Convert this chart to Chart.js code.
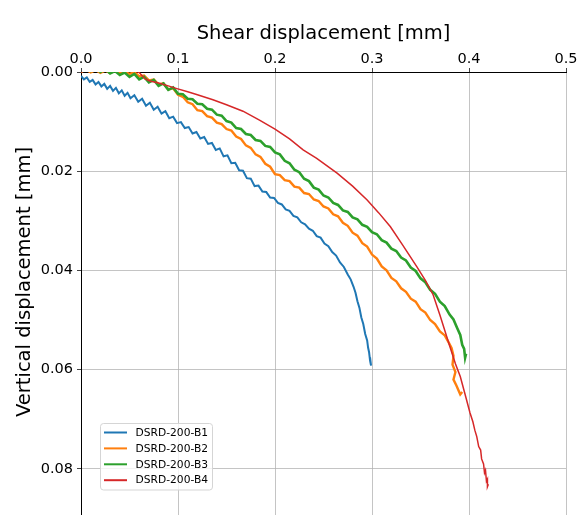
<!DOCTYPE html>
<html>
<head>
<meta charset="utf-8">
<script src="https://cdn.jsdelivr.net/npm/chart.js@4.4.1/dist/chart.umd.min.js"></script>
<style>
  html, body { margin: 0; padding: 0; background: #fff; }
  #wrap { width: 580px; height: 515px; }
</style>
</head>
<body>
<div id="wrap"><canvas id="chart" width="580" height="515"></canvas></div>
<script>
// series labels and colours
const labels = ["DSRD-200-B1", "DSRD-200-B2", "DSRD-200-B3", "DSRD-200-B4"];
const colors = ["#1f77b4", "#ff7f0e", "#2ca02c", "#d62728"];

// tick values
const xTicks = [0, 0.1, 0.2, 0.3, 0.4, 0.5];
const yTicks = [0, 0.02, 0.04, 0.06, 0.08];

// [shear displacement, vertical displacement]
const b1 = [
  [0.000, 0.0008], [0.003, 0.0015], [0.006, 0.0011], [0.009, 0.0020], [0.012, 0.0016],
  [0.015, 0.0025], [0.018, 0.0020], [0.021, 0.0029], [0.024, 0.0024], [0.027, 0.0034],
  [0.030, 0.0028], [0.033, 0.0038], [0.036, 0.0032], [0.039, 0.0043], [0.042, 0.0037],
  [0.045, 0.0048], [0.048, 0.0042], [0.051, 0.0053], [0.055, 0.0047], [0.059, 0.0060],
  [0.063, 0.0054], [0.067, 0.0068], [0.071, 0.0062], [0.075, 0.0076], [0.079, 0.0070],
  [0.083, 0.0084], [0.087, 0.0079], [0.091, 0.0093], [0.095, 0.0090], [0.099, 0.0103],
  [0.103, 0.0101], [0.107, 0.0113], [0.111, 0.0111], [0.115, 0.0124], [0.119, 0.0121],
  [0.123, 0.0134], [0.127, 0.0131], [0.131, 0.0145], [0.135, 0.0143], [0.139, 0.0157],
  [0.143, 0.0154], [0.147, 0.0170], [0.151, 0.0168], [0.155, 0.0184], [0.159, 0.0183],
  [0.163, 0.0198], [0.167, 0.0199], [0.171, 0.0214], [0.175, 0.0215], [0.179, 0.0230],
  [0.183, 0.0229], [0.187, 0.0241], [0.191, 0.0242], [0.195, 0.0253], [0.199, 0.0254],
  [0.203, 0.0264], [0.207, 0.0267], [0.211, 0.0277], [0.215, 0.0280], [0.219, 0.0290],
  [0.223, 0.0293], [0.227, 0.0303], [0.231, 0.0307], [0.235, 0.0316], [0.239, 0.0320],
  [0.243, 0.0331], [0.247, 0.0334], [0.251, 0.0346], [0.255, 0.0351], [0.259, 0.0363],
  [0.263, 0.0370], [0.267, 0.0384], [0.271, 0.0393], [0.275, 0.0408], [0.278, 0.0418],
  [0.281, 0.0433], [0.283, 0.0445], [0.285, 0.0462], [0.287, 0.0475], [0.289, 0.0495],
  [0.291, 0.0508], [0.293, 0.0528], [0.295, 0.0541], [0.296, 0.0556], [0.297, 0.0565],
  [0.298, 0.0582], [0.299, 0.0592], [0.298, 0.0575]
];

const b2 = [
  [0.000, 0.0000], [0.005, -0.0005], [0.010, 0.0001], [0.015, -0.0004], [0.020, 0.0002],
  [0.025, -0.0003], [0.030, 0.0002], [0.035, -0.0003], [0.040, 0.0003], [0.045, -0.0001],
  [0.050, 0.0004], [0.055, 0.0000], [0.060, 0.0009], [0.065, 0.0007], [0.070, 0.0017],
  [0.075, 0.0015], [0.080, 0.0025], [0.085, 0.0023], [0.090, 0.0035], [0.095, 0.0033],
  [0.100, 0.0046], [0.105, 0.0050], [0.110, 0.0061], [0.115, 0.0065], [0.120, 0.0077],
  [0.125, 0.0079], [0.130, 0.0089], [0.135, 0.0092], [0.140, 0.0102], [0.145, 0.0105],
  [0.150, 0.0115], [0.155, 0.0118], [0.160, 0.0130], [0.165, 0.0135], [0.170, 0.0148],
  [0.175, 0.0153], [0.180, 0.0166], [0.185, 0.0171], [0.190, 0.0185], [0.195, 0.0191],
  [0.200, 0.0206], [0.205, 0.0208], [0.210, 0.0218], [0.215, 0.0220], [0.220, 0.0231],
  [0.225, 0.0233], [0.230, 0.0244], [0.235, 0.0246], [0.240, 0.0257], [0.245, 0.0260],
  [0.250, 0.0271], [0.255, 0.0275], [0.260, 0.0287], [0.265, 0.0291], [0.270, 0.0304],
  [0.275, 0.0310], [0.280, 0.0324], [0.285, 0.0330], [0.290, 0.0345], [0.295, 0.0352],
  [0.300, 0.0368], [0.305, 0.0376], [0.310, 0.0392], [0.315, 0.0400], [0.320, 0.0415],
  [0.325, 0.0422], [0.330, 0.0436], [0.335, 0.0443], [0.340, 0.0457], [0.345, 0.0463],
  [0.350, 0.0478], [0.355, 0.0485], [0.360, 0.0500], [0.365, 0.0508], [0.370, 0.0523],
  [0.375, 0.0531], [0.379, 0.0545], [0.382, 0.0556], [0.384, 0.0572], [0.383, 0.0590],
  [0.386, 0.0605], [0.384, 0.0620], [0.387, 0.0632], [0.389, 0.0641], [0.391, 0.0650],
  [0.393, 0.0645]
];

const b3 = [
  [0.000, -0.0002], [0.005, -0.0009], [0.010, -0.0002], [0.015, -0.0008], [0.020, 0.0000],
  [0.025, -0.0006], [0.030, 0.0003], [0.035, -0.0002], [0.040, 0.0006], [0.045, 0.0001],
  [0.050, 0.0010], [0.055, 0.0004], [0.060, 0.0015], [0.065, 0.0010], [0.070, 0.0021],
  [0.075, 0.0016], [0.080, 0.0028], [0.085, 0.0023], [0.090, 0.0036], [0.095, 0.0031],
  [0.100, 0.0044], [0.105, 0.0045], [0.110, 0.0054], [0.115, 0.0055], [0.120, 0.0064],
  [0.125, 0.0065], [0.130, 0.0074], [0.135, 0.0076], [0.140, 0.0086], [0.145, 0.0088],
  [0.150, 0.0099], [0.155, 0.0102], [0.160, 0.0113], [0.165, 0.0115], [0.170, 0.0125],
  [0.175, 0.0127], [0.180, 0.0137], [0.185, 0.0139], [0.190, 0.0149], [0.195, 0.0151],
  [0.200, 0.0162], [0.205, 0.0166], [0.210, 0.0179], [0.215, 0.0184], [0.220, 0.0197],
  [0.225, 0.0202], [0.230, 0.0215], [0.235, 0.0220], [0.240, 0.0233], [0.245, 0.0237],
  [0.250, 0.0249], [0.255, 0.0253], [0.260, 0.0264], [0.265, 0.0268], [0.270, 0.0279],
  [0.275, 0.0282], [0.280, 0.0293], [0.285, 0.0297], [0.290, 0.0308], [0.295, 0.0312],
  [0.300, 0.0323], [0.305, 0.0327], [0.310, 0.0339], [0.315, 0.0344], [0.320, 0.0356],
  [0.325, 0.0361], [0.330, 0.0374], [0.335, 0.0380], [0.340, 0.0394], [0.345, 0.0401],
  [0.350, 0.0416], [0.355, 0.0424], [0.360, 0.0439], [0.365, 0.0447], [0.370, 0.0463],
  [0.375, 0.0472], [0.380, 0.0489], [0.384, 0.0499], [0.388, 0.0517], [0.391, 0.0530],
  [0.393, 0.0550], [0.395, 0.0558], [0.396, 0.0576], [0.397, 0.0568]
];

const b4 = [
  [0.000, 0.0000], [0.005, -0.0004], [0.009, -0.0007], [0.015, -0.0008], [0.020, -0.0007],
  [0.025, -0.0005], [0.030, -0.0003], [0.035, -0.0002], [0.040, -0.0003], [0.045, -0.0004],
  [0.050, -0.0004], [0.055, -0.0003], [0.060, 0.0001], [0.066, 0.0014], [0.071, 0.0018],
  [0.080, 0.0022], [0.090, 0.0028], [0.098, 0.0033], [0.110, 0.0040], [0.120, 0.0046],
  [0.136, 0.0056], [0.150, 0.0066], [0.167, 0.0079], [0.184, 0.0097], [0.200, 0.0115],
  [0.215, 0.0135], [0.229, 0.0157], [0.243, 0.0174], [0.264, 0.0204], [0.280, 0.0230],
  [0.295, 0.0258], [0.307, 0.0284], [0.319, 0.0312], [0.332, 0.0350], [0.346, 0.0392],
  [0.355, 0.0420], [0.363, 0.0449], [0.370, 0.0490], [0.377, 0.0533], [0.381, 0.0558],
  [0.386, 0.0588], [0.391, 0.0614], [0.396, 0.0650], [0.401, 0.0687], [0.404, 0.0705],
  [0.406, 0.0722], [0.408, 0.0735], [0.410, 0.0755], [0.412, 0.0762], [0.413, 0.0780],
  [0.415, 0.0790], [0.416, 0.0808], [0.417, 0.0803], [0.418, 0.0825], [0.419, 0.0821],
  [0.419, 0.0836], [0.420, 0.0831]
];

const series = [b1, b2, b3, b4];
const widths = [2, 2.4, 2.6, 1.5];

const FONT = "'DejaVu Sans', sans-serif";

// legend box in the lower left of the plot
const boxLegend = {
  id: "boxLegend",
  afterDraw(chart) {
    const ctx = chart.ctx;
    const x0 = 100.5, y0 = 423.5, w = 112, h = 66.5;
    ctx.save();
    ctx.beginPath();
    ctx.roundRect(x0, y0, w, h, 3);
    ctx.fillStyle = "rgba(255,255,255,0.8)";
    ctx.fill();
    ctx.strokeStyle = "#d5d5d5";
    ctx.lineWidth = 1;
    ctx.stroke();
    ctx.font = "10.7px " + FONT;
    ctx.textBaseline = "middle";
    ctx.textAlign = "left";
    labels.forEach((lab, i) => {
      const y = 432.5 + i * 15.9;
      ctx.beginPath();
      ctx.moveTo(104, y);
      ctx.lineTo(127, y);
      ctx.strokeStyle = colors[i];
      ctx.lineWidth = 2;
      ctx.stroke();
      ctx.fillStyle = "#000";
      ctx.fillText(lab, 135.5, y + 0.5);
    });
    ctx.restore();
  }
};

// y axis label, placed like the reference
const yLabel = {
  id: "yLabel",
  afterDraw(chart) {
    const ctx = chart.ctx;
    ctx.save();
    ctx.translate(25, 282);
    ctx.rotate(-Math.PI / 2);
    ctx.font = "19.5px " + FONT;
    ctx.fillStyle = "#000";
    ctx.textAlign = "center";
    ctx.textBaseline = "middle";
    ctx.fillText("Vertical displacement [mm]", 0, 0);
    ctx.restore();
  }
};

const ctx = document.getElementById("chart").getContext("2d");
new Chart(ctx, {
  type: "line",
  data: {
    datasets: series.map((s, i) => ({
      label: labels[i],
      data: s.map(p => ({ x: p[0], y: p[1] })),
      borderColor: colors[i],
      backgroundColor: colors[i],
      borderWidth: widths[i],
      pointRadius: 0,
      tension: 0,
      fill: false,
      order: 4 - i
    }))
  },
  options: {
    responsive: false,
    animation: false,
    devicePixelRatio: 1,
    layout: { padding: { left: 0, right: 14, top: 0, bottom: 0 } },
    plugins: {
      legend: { display: false },
      tooltip: { enabled: false }
    },
    scales: {
      x: {
        type: "linear",
        position: "top",
        min: 0,
        max: 0.5,
        afterBuildTicks: s => { s.ticks = xTicks.map(v => ({ value: v })); },
        afterFit: s => { s.height = 72; s.paddingLeft = 0; s.paddingRight = 0; },
        ticks: {
          font: { family: FONT, size: 14.5 },
          color: "#000",
          padding: 0,
          maxRotation: 0,
          callback: v => v.toFixed(1)
        },
        grid: { color: "rgba(176,176,176,0.75)", lineWidth: 1, tickLength: 4, tickColor: "#444" },
        border: { display: true, color: "#000", width: 1 },
        title: {
          display: true,
          text: "Shear displacement [mm]",
          font: { family: FONT, size: 19.5 },
          color: "#000",
          padding: { top: 22, bottom: 0 }
        }
      },
      y: {
        type: "linear",
        reverse: true,
        min: 0,
        max: 0.0893,
        afterBuildTicks: s => { s.ticks = yTicks.map(v => ({ value: v })); },
        afterFit: s => { s.width = 81; s.paddingTop = 0; s.paddingBottom = 0; },
        ticks: {
          font: { family: FONT, size: 14.5 },
          color: "#000",
          padding: 4,
          callback: v => v.toFixed(2)
        },
        grid: { color: "rgba(176,176,176,0.75)", lineWidth: 1, tickLength: 4, tickColor: "#444" },
        border: { display: true, color: "#000", width: 1 }
      }
    }
  },
  plugins: [boxLegend, yLabel]
});
</script>
</body>
</html>
